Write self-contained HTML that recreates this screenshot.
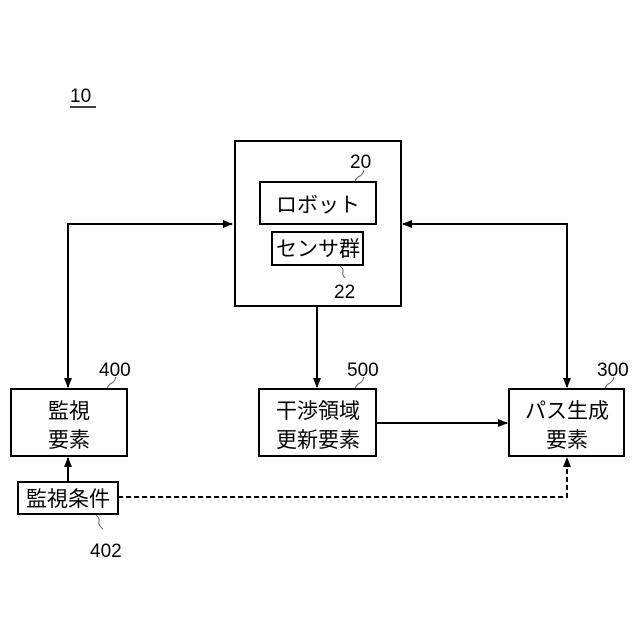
<!DOCTYPE html>
<html><head><meta charset="utf-8"><style>
html,body{margin:0;padding:0;background:#fff;}
svg{display:block;}
text{font-family:"Liberation Sans","Noto Sans CJK JP",sans-serif;fill:#000;}
.n{font-size:19px;}
.j{font-size:21px;}
</style></head><body>
<svg width="640" height="640" viewBox="0 0 640 640" xmlns="http://www.w3.org/2000/svg">
<defs>
<marker id="a" markerWidth="10" markerHeight="10" refX="9" refY="5" orient="auto" markerUnits="userSpaceOnUse">
<path d="M0,1 L10,5 L0,9 Z" fill="#000"/></marker>
</defs>
<g fill="none" stroke="#000" stroke-width="2">
<rect x="235" y="141" width="166" height="165"/>
<rect x="260" y="182" width="116" height="42"/>
<rect x="272" y="232" width="91" height="33"/>
<rect x="11" y="389" width="116" height="67"/>
<rect x="259" y="389" width="117" height="67"/>
<rect x="509" y="389" width="115" height="67"/>
<rect x="18" y="482" width="100" height="32"/>
<polyline points="68,386 68,224 232,224" marker-end="url(#a)"/>
<line x1="68" y1="230" x2="68" y2="387" marker-end="url(#a)"/>
<polyline points="567,386 567,224 403,224" marker-end="url(#a)"/>
<line x1="567" y1="230" x2="567" y2="387" marker-end="url(#a)"/>
<line x1="317" y1="306" x2="317" y2="387" marker-end="url(#a)"/>
<line x1="376" y1="423" x2="507" y2="423" marker-end="url(#a)"/>
<line x1="68" y1="482" x2="68" y2="458" marker-end="url(#a)"/>
<polyline points="118,497 567,497 567,458" stroke-dasharray="5,3" marker-end="url(#a)"/>
</g>
<g fill="none" stroke="#666" stroke-width="1">
<path d="M355,181 q2,-4 5,-5 q3,-2 4,-6"/>
<path d="M340,266 q4,3 3,6 q-1,3 2,6"/>
<path d="M107,388 q2,-4 5,-5 q3,-2 4,-6"/>
<path d="M355,388 q2,-4 5,-5 q3,-2 4,-6"/>
<path d="M605,388 q2,-4 5,-5 q3,-2 4,-6"/>
<path d="M96,515 q4,3 3,7 q-1,3 4,7"/>
</g>
<text class="n" x="70" y="102">10</text>
<line x1="70" y1="107" x2="96" y2="107" stroke="#000" stroke-width="1.5"/>
<text class="n" x="350" y="168">20</text>
<text class="n" x="334" y="298">22</text>
<text class="n" x="99" y="376">400</text>
<text class="n" x="347" y="376">500</text>
<text class="n" x="597" y="376">300</text>
<text class="n" x="90" y="557">402</text>
<text class="j" x="318" y="212" text-anchor="middle">ロボット</text>
<text class="j" x="318" y="256" text-anchor="middle">センサ群</text>
<text class="j" x="69" y="418" text-anchor="middle">監視</text>
<text class="j" x="69" y="447" text-anchor="middle">要素</text>
<text class="j" x="318" y="418" text-anchor="middle">干渉領域</text>
<text class="j" x="318" y="447" text-anchor="middle">更新要素</text>
<text class="j" x="567" y="418" text-anchor="middle">パス生成</text>
<text class="j" x="567" y="447" text-anchor="middle">要素</text>
<text class="j" x="68" y="506" text-anchor="middle">監視条件</text>
</svg>
</body></html>
